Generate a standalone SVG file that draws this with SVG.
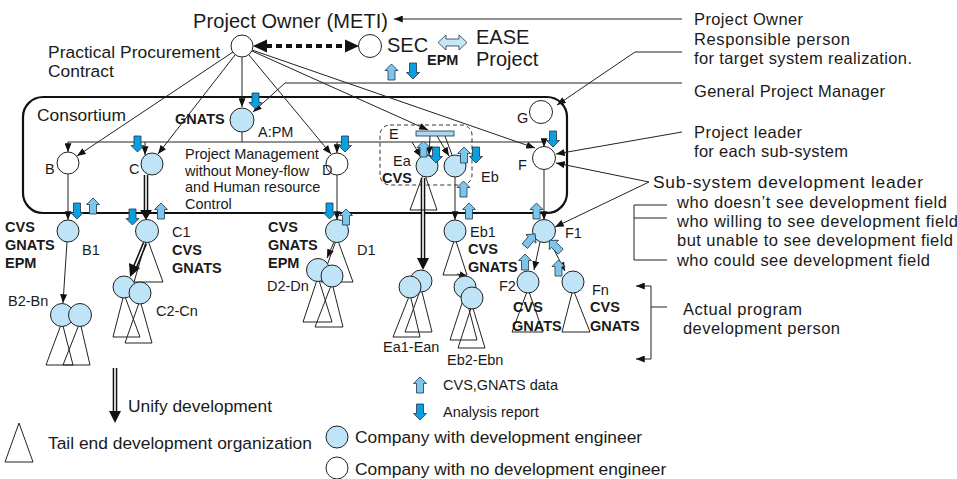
<svg xmlns="http://www.w3.org/2000/svg" width="957" height="479" viewBox="0 0 957 479">
<style>
text{font-family:"Liberation Sans",Arial,sans-serif;fill:#1a1a1a}
.L{font-size:20px}
.M{font-size:17.4px}
.R{font-size:16.5px}
.S{font-size:14.5px}
.B{font-size:14.5px;font-weight:bold}
.w{fill:#fff;stroke:#222;stroke-width:1}
.bl{fill:#bfe4f7;stroke:#222;stroke-width:1}
.tri{fill:none;stroke:#222;stroke-width:1}
.ln{fill:none;stroke:#222;stroke-width:1}
.ar{fill:none;stroke:#222;stroke-width:1;marker-end:url(#ah)}
.dbl{fill:none;stroke:#111;stroke-width:4.6}
.dblw{fill:none;stroke:#fff;stroke-width:1.6}
.hd{fill:#111}
.up{fill:#7cc6ec;stroke:#223344;stroke-width:0.8}
.dn{fill:#0a9fe0;stroke:#223344;stroke-width:0.8}
</style>
<defs>
<marker id="ah" viewBox="0 0 10 8" refX="10" refY="4" markerWidth="9" markerHeight="7" orient="auto" markerUnits="userSpaceOnUse"><path d="M0,0 L10,4 L0,8 Z" fill="#111"/></marker>
<path id="upA" d="M0,0 L6.5,6.5 L3.5,6.5 L3.5,16 L-3.5,16 L-3.5,6.5 L-6.5,6.5 Z"/>
<path id="dnA" d="M0,16 L6.5,9.5 L3.5,9.5 L3.5,0 L-3.5,0 L-3.5,9.5 L-6.5,9.5 Z"/>
</defs>

<g id="consortium">
<rect x="23" y="97" width="544" height="116" rx="20" fill="none" stroke="#111" stroke-width="2.2"/>
<text class="M" x="37" y="121">Consortium</text>
</g>
<g id="e-group">
<rect x="380" y="125" width="92" height="60" rx="10" fill="none" stroke="#333" stroke-width="1" stroke-dasharray="4 3"/>
</g>

<g id="connectors">
<line class="ar" x1="233" y1="52" x2="77" y2="156"/>
<line class="ar" x1="235" y1="55" x2="158" y2="154"/>
<line class="ar" x1="242" y1="57" x2="242" y2="107"/>
<line class="ar" x1="249" y1="55" x2="331" y2="154"/>
<line class="ar" x1="252" y1="51" x2="428" y2="130"/>
<line class="ar" x1="252" y1="50" x2="535" y2="148"/>
<line x1="266" y1="46" x2="347" y2="46" stroke="#111" stroke-width="4" stroke-dasharray="6 4"/>
<polygon class="hd" points="253,46 267,39.5 267,52.5"/>
<polygon class="hd" points="359,46 345,39.5 345,52.5"/>
<path d="M438,42.5 L446,35 L446,39 L459,39 L459,35 L467,42.5 L459,50 L459,46 L446,46 L446,50 Z" fill="#c6e7f9" stroke="#223344" stroke-width="0.8"/>
<path class="ln" d="M242,132 V142 M68,142 H544"/>
<line class="ar" x1="68" y1="142" x2="68" y2="152"/>
<line class="ar" x1="145" y1="142" x2="145" y2="155"/>
<line class="ar" x1="337" y1="142" x2="337" y2="153"/>
<line class="ar" x1="544" y1="142" x2="544" y2="147"/>
<line class="ar" x1="412" y1="142" x2="421" y2="157"/>
<line class="ar" x1="430" y1="136" x2="429" y2="155"/>
<line class="ar" x1="437" y1="136" x2="449" y2="156"/>
<line class="ln" x1="445" y1="136" x2="452" y2="155"/>
<line class="ar" x1="68" y1="174" x2="68" y2="220"/>
<line class="ar" x1="67" y1="242" x2="63" y2="303"/>
<path class="dbl" d="M146,175 V212"/><path class="dblw" d="M146,175 V212"/>
<polygon class="hd" points="140,210 152,210 146,220"/>
<path class="dbl" d="M145,243 L135,267"/><path class="dblw" d="M145,243 L135,267"/>
<polygon class="hd" points="129,263 140,268 130,277"/>
<line class="ar" x1="337" y1="175" x2="337" y2="220"/>
<line class="ar" x1="334" y1="242" x2="327" y2="258"/>
<path class="dbl" d="M423,178 V260"/><path class="dblw" d="M423,178 V260"/>
<polygon class="hd" points="417,258 429,258 423,270"/>
<line class="ar" x1="455" y1="177" x2="455" y2="220"/>
<line class="ar" x1="457" y1="274" x2="468" y2="277"/>
<line class="ar" x1="544" y1="170" x2="544" y2="220"/>
<line class="ar" x1="540" y1="242" x2="534" y2="270"/>
<line class="ar" x1="550" y1="242" x2="565" y2="271"/>
<line class="ar" x1="682" y1="19" x2="394" y2="19"/>
<polyline class="ar" points="682,52 635,52 557,105"/>
<polyline class="ar" points="682,83 285,83 253,112"/>
<line class="ar" x1="682" y1="132" x2="556" y2="154"/>
<line class="ar" x1="649" y1="182" x2="556" y2="163"/>
<line class="ar" x1="649" y1="182" x2="555" y2="227"/>
<path class="ln" d="M667,205 H634 V260 H667 M634,218 H667"/>
<path class="ar" d="M651,300 V286 H636"/>
<path class="ar" d="M651,300 V359 H636"/>
<path class="ln" d="M651,307 H667"/>
</g>

<g id="node-po">
<circle class="w" cx="242" cy="46" r="11"/>
<text class="L" x="193" y="28" textLength="195">Project Owner (METI)</text>
<text class="M" x="48" y="58" textLength="172">Practical Procurement</text>
<text class="M" x="48" y="77">Contract</text>
</g>
<g id="node-sec">
<circle class="w" cx="370" cy="46" r="11.5"/>
<text class="L" x="387" y="52">SEC</text>
<text class="B" x="427" y="65">EPM</text>
</g>
<g id="node-ease">
<text class="L" x="476" y="44">EASE</text>
<text class="L" x="476" y="66">Project</text>
</g>
<g id="node-a">
<circle class="bl" cx="242" cy="120" r="12"/>
<text class="B" x="175" y="124">GNATS</text>
<text class="S" x="258" y="137">A:PM</text>
<text class="S" x="185" y="159">Project Management</text>
<text class="S" x="185" y="176">without Money-flow</text>
<text class="S" x="185" y="192">and Human resource</text>
<text class="S" x="185" y="209">Control</text>
</g>
<g id="node-g">
<circle class="w" cx="541" cy="112" r="11.5"/>
<text class="S" x="517" y="123">G</text>
</g>
<g id="node-b">
<circle class="w" cx="68" cy="163" r="11"/>
<text class="S" x="45" y="174">B</text>
</g>
<g id="node-c">
<circle class="bl" cx="152" cy="164" r="11"/>
<text class="S" x="129" y="174">C</text>
</g>
<g id="node-d">
<circle class="w" cx="337" cy="164" r="11"/>
<text class="S" x="322" y="175">D</text>
</g>
<g id="node-e">
<rect x="416" y="131" width="38" height="5" fill="#a9d8f2" stroke="#223344" stroke-width="0.8"/>
<text class="S" x="389" y="139">E</text>
</g>
<g id="node-ea">
<polygon class="tri" points="424,172 410,210 437,210"/>
<circle class="bl" cx="427" cy="166" r="11"/>
<text class="S" x="393" y="166">Ea</text>
<text class="B" x="382" y="183">CVS</text>
</g>
<g id="node-eb">
<circle class="bl" cx="455" cy="166" r="11"/>
<text class="S" x="481" y="182">Eb</text>
</g>
<g id="node-f">
<circle class="w" cx="544" cy="158" r="11.5"/>
<text class="S" x="518" y="170">F</text>
</g>

<g id="node-b1">
<circle class="bl" cx="68" cy="231" r="11"/>
<text class="B" x="5" y="232">CVS</text>
<text class="B" x="5" y="250">GNATS</text>
<text class="B" x="5" y="268">EPM</text>
<text class="S" x="82" y="255">B1</text>
</g>
<g id="node-b2">
<polygon class="tri" points="62,322 46,365 73,365"/>
<polygon class="tri" points="80,322 63,365 90,365"/>
<circle class="bl" cx="62" cy="315" r="11.5"/>
<circle class="bl" cx="80" cy="315" r="11.5"/>
<text class="S" x="8" y="306">B2-Bn</text>
</g>
<g id="node-c1">
<polygon class="tri" points="147,238 134,282 163,282"/>
<circle class="bl" cx="147" cy="231" r="11.5"/>
<text class="S" x="172" y="237">C1</text>
<text class="B" x="172" y="255">CVS</text>
<text class="B" x="172" y="273">GNATS</text>
</g>
<g id="node-c2">
<polygon class="tri" points="124,294 113,337 140,337"/>
<polygon class="tri" points="140,300 125,343 152,343"/>
<circle class="bl" cx="124" cy="287" r="11"/>
<circle class="bl" cx="140" cy="293" r="11"/>
<text class="S" x="156" y="316">C2-Cn</text>
</g>
<g id="node-d1">
<polygon class="tri" points="337,238 321,282 353,282"/>
<circle class="bl" cx="337" cy="231" r="11.5"/>
<text class="B" x="268" y="232">CVS</text>
<text class="B" x="268" y="250">GNATS</text>
<text class="B" x="268" y="268">EPM</text>
<text class="S" x="357" y="255">D1</text>
</g>
<g id="node-d2">
<polygon class="tri" points="318,277 303,322 332,322"/>
<polygon class="tri" points="332,283 315,327 343,327"/>
<circle class="bl" cx="318" cy="270" r="11.5"/>
<circle class="bl" cx="332" cy="276" r="11"/>
<text class="S" x="267" y="291">D2-Dn</text>
</g>
<g id="node-ea1">
<polygon class="tri" points="410,294 393,337 420,337"/>
<polygon class="tri" points="421,288 405,332 432,332"/>
<circle class="bl" cx="421" cy="281" r="11"/>
<circle class="bl" cx="410" cy="287" r="11"/>
<text class="S" x="383" y="352">Ea1-Ean</text>
</g>
<g id="node-eb1">
<polygon class="tri" points="455,238 443,275 467,275"/>
<circle class="bl" cx="455" cy="231" r="11"/>
<text class="S" x="470" y="237">Eb1</text>
<text class="B" x="468" y="254">CVS</text>
<text class="B" x="468" y="272">GNATS</text>
</g>
<g id="node-eb2">
<polygon class="tri" points="465,294 450,340 477,340"/>
<polygon class="tri" points="472,305 458,348 485,348"/>
<circle class="bl" cx="465" cy="287" r="11"/>
<circle class="bl" cx="472" cy="298" r="11"/>
<text class="S" x="447" y="365">Eb2-Ebn</text>
</g>
<g id="node-f1">
<circle class="bl" cx="544" cy="231" r="11.5"/>
<text class="S" x="565" y="238">F1</text>
</g>
<g id="node-f2">
<polygon class="tri" points="528,289 512,332 543,332"/>
<circle class="bl" cx="528" cy="282" r="11"/>
<text class="S" x="499" y="291">F2</text>
<text class="B" x="513" y="312">CVS</text>
<text class="B" x="512" y="331">GNATS</text>
</g>
<g id="node-fn">
<polygon class="tri" points="573,289 562,332 590,332"/>
<circle class="bl" cx="573" cy="282" r="11"/>
<text class="S" x="592" y="295">Fn</text>
<text class="B" x="590" y="312">CVS</text>
<text class="B" x="590" y="331">GNATS</text>
</g>

<g id="data-arrows">
<use href="#dnA" class="dn" x="255.5" y="93"/>
<use href="#upA" class="up" x="391.5" y="64"/>
<use href="#dnA" class="dn" x="413" y="63"/>
<use href="#dnA" class="dn" x="137.5" y="136"/>
<use href="#dnA" class="dn" x="345" y="136"/>
<use href="#dnA" class="dn" x="553" y="131"/>
<use href="#upA" class="up" x="423.5" y="141"/>
<use href="#dnA" class="dn" x="436" y="147"/>
<use href="#upA" class="up" x="464" y="147"/>
<use href="#dnA" class="dn" x="476" y="147"/>
<use href="#upA" class="up" x="463.5" y="181"/>
<use href="#upA" class="up" x="469" y="203"/>
<use href="#dnA" class="dn" x="77" y="203"/>
<use href="#upA" class="up" x="93" y="198"/>
<use href="#dnA" class="dn" x="132.5" y="209"/>
<use href="#upA" class="up" x="161" y="203"/>
<use href="#dnA" class="dn" x="329.5" y="203"/>
<use href="#upA" class="up" x="346" y="209"/>
<use href="#upA" class="up" x="536.5" y="203"/>
<use href="#upA" class="up" transform="translate(530,240) rotate(40) translate(0,-8)"/>
<use href="#upA" class="up" transform="translate(555,246) rotate(-45) translate(0,-8)"/>
<use href="#upA" class="up" x="525" y="254"/>
<use href="#upA" class="up" x="558.5" y="260"/>
</g>

<g id="annotations">
<text class="R" x="694" y="25" textLength="109">Project Owner</text>
<text class="R" x="694" y="45" textLength="156">Responsible person</text>
<text class="R" x="694" y="64" textLength="218">for target system realization.</text>
<text class="R" x="694" y="97" textLength="191">General Project Manager</text>
<text class="R" x="694" y="138" textLength="108">Project leader</text>
<text class="R" x="694" y="157" textLength="154">for each sub-system</text>
<text class="R" x="653" y="188" style="font-size:17.4px" textLength="270">Sub-system development leader</text>
<text class="R" x="677" y="208" textLength="270">who doesn’t see development field</text>
<text class="R" x="677" y="227" textLength="281">who willing to see development field</text>
<text class="R" x="677" y="246" textLength="276">but unable to see development field</text>
<text class="R" x="677" y="266" textLength="253">who could see development field</text>
<text class="R" x="683" y="315" textLength="119">Actual program</text>
<text class="R" x="683" y="334" textLength="157">development person</text>
</g>

<g id="legend">
<path class="dbl" d="M115,368 V413"/><path class="dblw" d="M115,368 V413"/>
<polygon class="hd" points="109,411 121,411 115,423"/>
<text class="M" x="128" y="412">Unify development</text>
<polygon class="tri" points="19,423 5,462 33,462"/>
<text class="M" x="48" y="449">Tail end development organization</text>
<use href="#upA" class="up" x="420" y="377"/>
<text class="S" x="443" y="390">CVS,GNATS data</text>
<use href="#dnA" class="dn" x="420" y="404"/>
<text class="S" x="443" y="417">Analysis report</text>
<circle class="bl" cx="337" cy="437" r="11"/>
<text class="M" x="355" y="443">Company with development engineer</text>
<circle class="w" cx="337" cy="468" r="11"/>
<text class="M" x="355" y="475">Company with no development engineer</text>
</g>
</svg>
